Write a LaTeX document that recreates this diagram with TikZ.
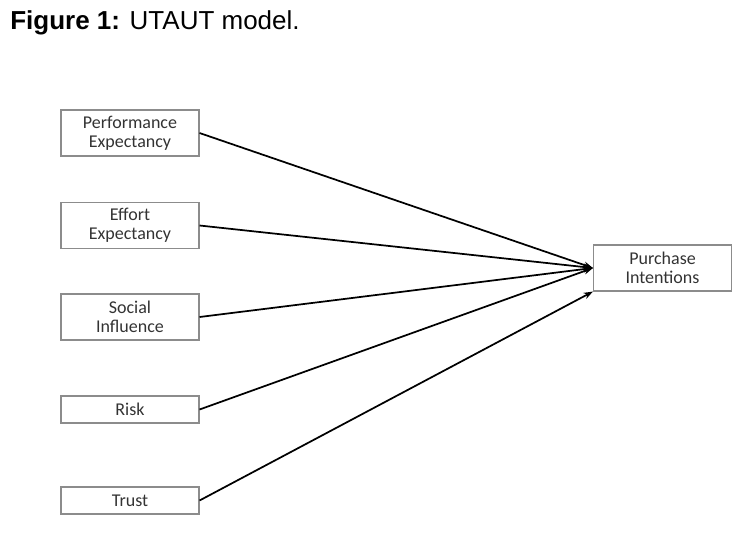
\documentclass[tikz,border=0pt]{standalone}
\usepackage{fontspec}
\setmainfont{Carlito}
\newfontfamily\titlefont{Liberation Sans}
\usetikzlibrary{arrows.meta}
\tikzset{
  factor/.style={draw=black!45,line width=0.8pt,minimum width=103.5pt,minimum height=34.5pt,
    inner sep=0pt,align=center,font=\fontsize{13.5}{14.5}\selectfont,text=black!80},
  flatfactor/.style={factor,minimum height=20.25pt},
  link/.style={-{Stealth[length=7pt,width=5pt]},line width=1.3pt}
}
\begin{document}
\begin{tikzpicture}[x=0.75pt,y=-0.75pt]
\useasboundingbox (0,0) rectangle (755,535);
\node[anchor=base west,inner sep=0pt,font=\titlefont\fontsize{19.5}{23}\selectfont] (title) at (10,30) {\textbf{Figure 1:} UTAUT model.};
% independent variables
\node[factor] (perf) at (130,133) {Performance\\Expectancy};
\node[factor] (effort) at (130,225.5) {Effort\\Expectancy};
\node[factor] (social) at (130,317) {Social\\Influence};
\node[flatfactor] (risk) at (130,409.5) {Risk};
\node[flatfactor] (trust) at (130,500.5) {Trust};
% dependent variable
\node[factor] (purch) at (662.5,268) {Purchase\\Intentions};
\draw[link] (perf.east) -- (purch.west);
\draw[link] (effort.east) -- (purch.west);
\draw[link] (social.east) -- (purch.west);
\draw[link] (risk.east) -- (purch.west);
\draw[link] (trust.east) -- (purch.south west);
\end{tikzpicture}
\end{document}
